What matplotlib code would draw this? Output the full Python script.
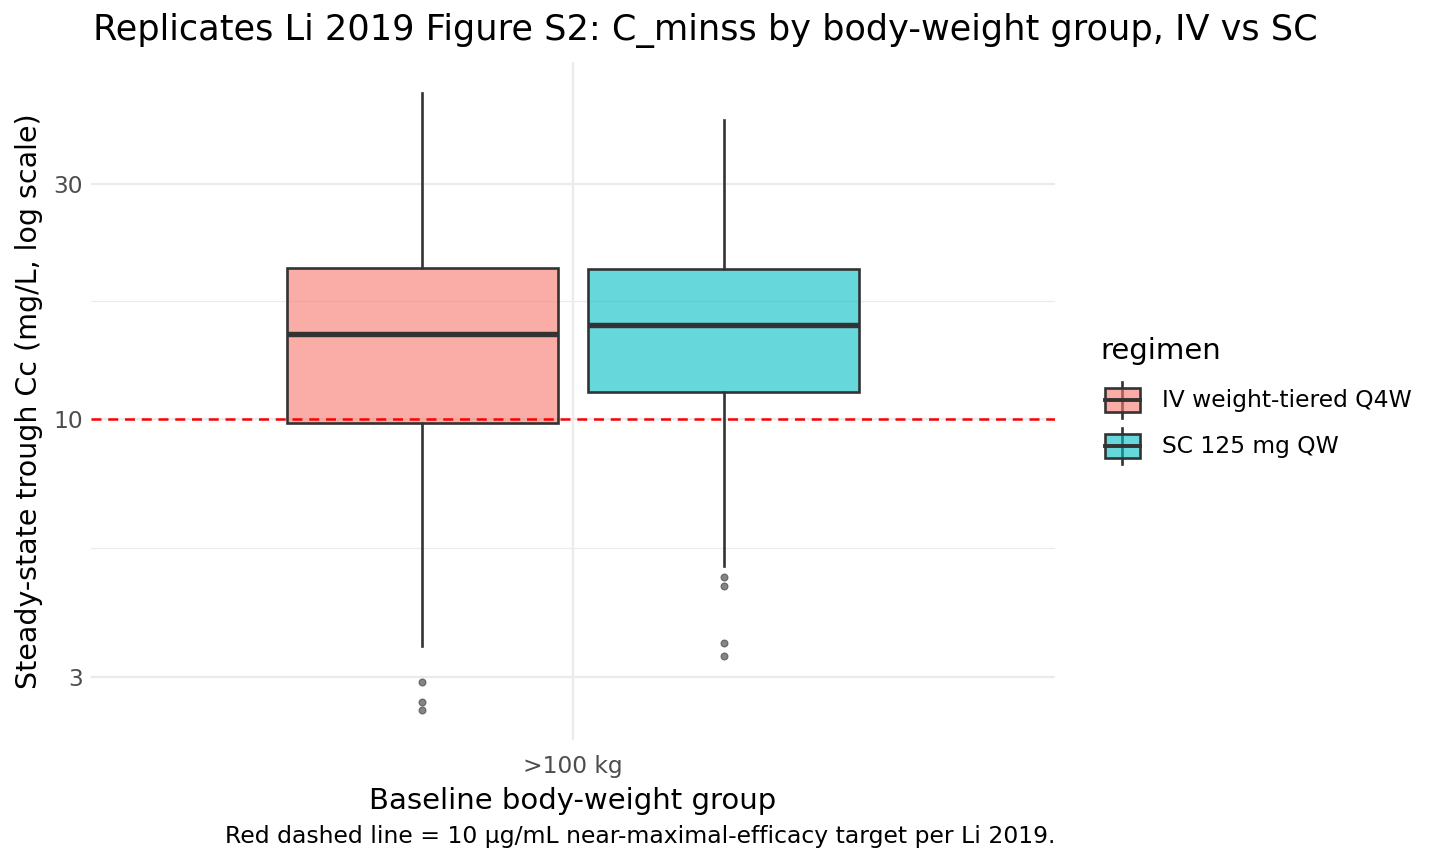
import numpy as np
import matplotlib
matplotlib.use("Agg")
import matplotlib.pyplot as plt
from matplotlib.patches import Rectangle
from matplotlib.lines import Line2D

# ---- data ----
group = ">100 kg"
regimens = ["IV weight-tiered Q4W", "SC 125 mg QW"]
colors = ["#F8766D", "#00BFC4"]
q1 = [9.81, 11.34]
med = [14.9, 15.5]
q3 = [20.2, 20.1]
whislo = [3.47, 5.05]
whishi = [45.8, 40.4]
outliers = [[2.94, 2.67, 2.58], [4.80, 4.59, 3.52, 3.32]]
target = 10
yticks = [3, 10, 30]

fig = plt.figure(figsize=(14.4, 8.64), dpi=100)
ax = fig.add_axes([91/1440, 1 - 740/864, (1055 - 91)/1440, (740 - 62)/864])

stats = []
for i in range(2):
    stats.append(dict(q1=q1[i], med=med[i], q3=q3[i], whislo=whislo[i],
                      whishi=whishi[i], fliers=outliers[i], label=regimens[i]))

positions = [1 - 0.1875, 1 + 0.1875]
b = ax.bxp(stats, positions=positions, widths=0.3375, patch_artist=True,
           showcaps=False, manage_ticks=False,
           boxprops=dict(edgecolor="#333333", linewidth=1.9),
           medianprops=dict(color="#333333", linewidth=3.9, solid_capstyle="butt"),
           whiskerprops=dict(color="#333333", linewidth=1.9),
           flierprops=dict(marker="o", markersize=5, markerfacecolor="#333333",
                           markeredgecolor="#333333", alpha=0.6, markeredgewidth=0.8))
for patch, c in zip(b["boxes"], colors):
    patch.set_facecolor(matplotlib.colors.to_rgba(c, 0.6))
    patch.set_zorder(3)
for m in b["medians"]:
    m.set_zorder(4)

ax.axhline(target, color="red", linestyle=(0, (4, 2.7)), linewidth=1.8, zorder=5)

ax.set_yscale("log")
ax.set_ylim(2.24, 52.9)
ax.set_xlim(0.4, 1.6)
ax.set_yticks(yticks)
ax.set_yticklabels([str(t) for t in yticks])
ax.set_yticks([np.sqrt(3 * 10), np.sqrt(10 * 30)], minor=True)
ax.yaxis.set_minor_formatter(matplotlib.ticker.NullFormatter())
ax.set_xticks([1])
ax.set_xticklabels([group])
ax.tick_params(axis="both", which="both", length=0, labelsize=16.8, labelcolor="#4D4D4D")
ax.tick_params(axis="y", pad=6)
ax.tick_params(axis="x", pad=11)
ax.grid(True, which="major", color="#EBEBEB", linewidth=1.6)
ax.grid(True, which="minor", axis="y", color="#EBEBEB", linewidth=0.8)
ax.set_axisbelow(True)
for s in ax.spines.values():
    s.set_visible(False)

ax.set_xlabel("Baseline body-weight group", fontsize=21, labelpad=6)
ax.set_ylabel("Steady-state trough Cc (mg/L, log scale)", fontsize=20.5, labelpad=7)
fig.text(93/1440, 1 - 30/864, "Replicates Li 2019 Figure S2: C_minss by body-weight group, IV vs SC",
         fontsize=25.3, ha="left", va="center")
fig.text(1055/1440, 1 - 836/864,
         "Red dashed line = 10 µg/mL near-maximal-efficacy target per Li 2019.",
         fontsize=16.9, ha="right", va="center")

# ---- legend drawn in pixel coordinates ----
lax = fig.add_axes([0, 0, 1, 1], zorder=10)
lax.set_xlim(0, 1440)
lax.set_ylim(864, 0)
lax.axis("off")
lax.text(1100, 351, "regimen", fontsize=21, ha="left", va="center")
for i, (lab, c) in enumerate(zip(regimens, colors)):
    cy = 400 + 46 * i
    lax.add_line(Line2D([1122, 1122], [cy - 18, cy + 18], color="#333333", linewidth=1.9))
    lax.add_patch(Rectangle((1105, cy - 12), 35, 24, facecolor=matplotlib.colors.to_rgba(c, 0.6),
                            edgecolor="#333333", linewidth=1.9, zorder=3))
    lax.add_line(Line2D([1105, 1140], [cy, cy], color="#333333", linewidth=2.8, zorder=4))
    lax.text(1162, cy, lab, fontsize=16.8, ha="left", va="center")

fig.savefig("out.png", dpi=100, facecolor="white")
